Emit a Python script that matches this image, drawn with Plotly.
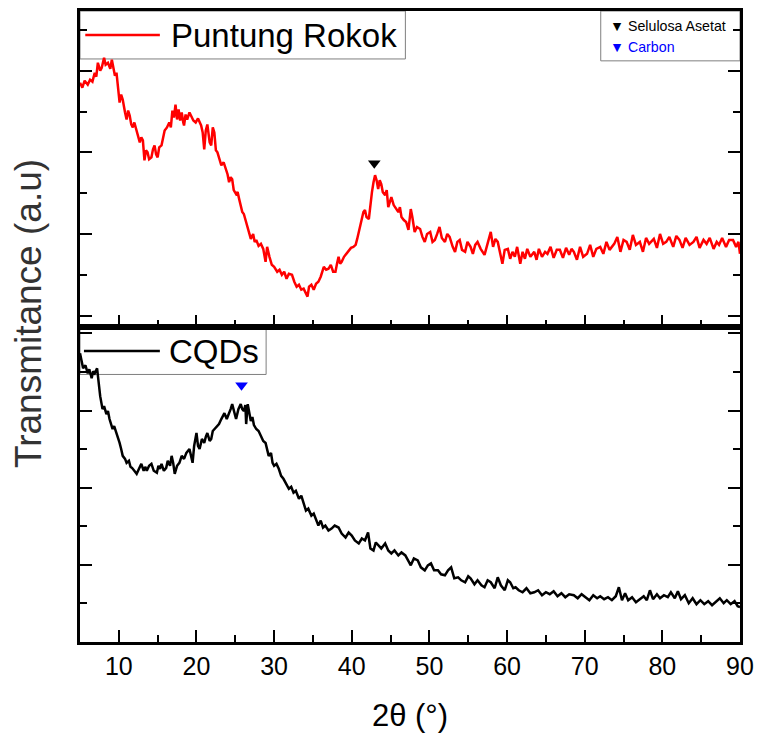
import plotly.graph_objects as go

# ---------------- data ----------------
theta_top = [5.0,5.3,5.6,6.0,6.3,6.6,6.9,7.1,7.3,7.6,7.8,8.1,8.3,8.6,8.9,9.1,9.3,9.5,9.7,9.9,
10.1,10.3,10.5,10.8,11.0,11.2,11.4,11.6,11.8,12.0,12.3,12.5,12.7,12.9,13.1,13.3,13.5,13.7,13.9,14.2,
14.4,14.6,14.8,15.0,15.2,15.5,15.7,15.9,16.2,16.5,16.7,16.9,17.1,17.3,17.5,17.7,17.9,18.1,18.3,18.4,
18.6,18.8,19.1,19.3,19.6,19.9,20.2,20.6,20.8,21.0,21.2,21.4,21.7,21.9,22.1,22.3,22.5,22.7,22.9,23.2,
23.5,23.8,24.0,24.2,24.4,24.6,24.8,25.1,25.3,25.5,25.7,25.9,26.1,26.4,26.7,27.0,27.3,27.5,27.7,28.0,
28.3,28.6,28.9,29.1,29.4,29.7,30.0,30.4,30.7,31.0,31.3,31.6,31.9,32.3,32.6,32.9,33.2,33.5,33.8,34.1,
34.3,34.5,34.8,35.1,35.4,35.7,36.0,36.4,36.7,37.0,37.3,37.6,37.9,38.1,38.3,38.5,38.7,39.0,39.3,39.6,
39.9,40.2,40.5,40.7,40.9,41.1,41.3,41.5,41.7,41.9,42.2,42.4,42.6,42.8,43.0,43.2,43.4,43.6,43.8,44.0,
44.3,44.5,44.7,44.9,45.1,45.4,45.7,46.0,46.2,46.4,46.7,47.0,47.3,47.6,47.8,48.1,48.4,48.8,49.1,49.4,
49.7,50.1,50.4,50.7,51.0,51.3,51.6,52.0,52.3,52.6,53.0,53.3,53.6,53.9,54.2,54.6,54.9,55.3,55.6,55.9,
56.2,56.6,57.1,57.4,57.6,57.9,58.2,58.5,58.8,59.1,59.4,59.7,60.1,60.4,60.7,61.0,61.3,61.7,62.0,62.3,
62.6,63.0,63.5,63.8,64.1,64.5,64.9,65.2,65.6,66.0,66.4,66.8,67.2,67.6,68.0,68.3,68.6,69.0,69.4,69.8,
70.3,70.7,71.1,71.5,72.0,72.4,72.8,73.2,73.8,74.2,74.6,75.0,75.4,75.8,76.2,76.6,77.1,77.5,77.9,78.3,
78.9,79.3,79.7,80.1,80.5,80.9,81.4,81.8,82.2,82.6,83.0,83.5,84.0,84.4,84.8,85.3,85.7,86.1,86.6,87.0,
87.3,87.7,88.2,88.6,89.1,89.5,89.8,90.0]
puntung_rokok = [245,240,247,243,248,246,255,251,265,257,260,270,263,265,259,268,260,252,255,242,
225,233,228,215,208,217,212,203,200,205,197,192,185,190,187,167,177,175,168,170,
178,182,173,170,180,182,190,197,200,205,200,217,210,223,208,218,207,215,205,202,
213,208,215,212,207,205,209,202,195,178,197,203,185,182,200,195,177,175,170,162,
165,158,153,145,150,148,137,133,135,128,120,115,113,105,97,88,93,85,87,81,
83,78,65,80,70,62,60,55,57,52,55,48,53,52,45,40,42,37,38,32,
30,40,42,37,43,45,50,60,57,58,62,55,55,63,70,63,65,70,73,75,
79,80,82,88,95,101,108,115,117,110,108,125,135,145,152,147,138,147,143,135,
132,137,120,125,130,122,118,115,120,110,107,105,97,118,110,95,100,98,90,85,
93,95,85,87,93,100,89,85,93,90,80,75,85,87,77,75,85,80,73,82,
85,78,72,80,87,95,80,88,85,75,63,77,78,68,75,70,80,63,75,68,
78,70,75,67,78,70,75,73,80,69,77,77,69,79,72,78,75,67,80,70,
73,82,70,78,80,73,85,77,83,90,75,87,85,77,92,82,85,75,89,83,
88,79,93,83,85,90,80,91,87,79,89,82,85,90,79,87,83,89,78,85,
82,89,80,87,87,80,85,73]

theta_bot = [5.0,5.2,5.4,5.7,6.0,6.2,6.5,6.7,6.9,7.2,7.4,7.6,7.9,8.1,8.4,8.6,8.8,9.0,9.2,9.4,
9.7,9.9,10.1,10.3,10.5,10.8,11.0,11.3,11.5,11.7,12.0,12.3,12.6,12.9,13.2,13.4,13.6,13.9,14.2,14.5,
14.9,15.1,15.3,15.5,15.8,16.1,16.3,16.6,16.8,17.0,17.2,17.5,17.8,18.1,18.4,18.7,19.1,19.3,19.5,19.7,
20.0,20.2,20.4,20.7,21.0,21.2,21.4,21.7,21.9,22.1,22.3,22.6,22.9,23.2,23.6,23.9,24.2,24.4,24.6,24.9,
25.1,25.4,25.7,25.9,26.1,26.3,26.4,26.6,26.8,27.0,27.2,27.4,27.7,28.0,28.3,28.6,28.9,29.1,29.3,29.6,
29.8,30.0,30.3,30.6,30.9,31.2,31.5,31.9,32.2,32.5,32.8,33.2,33.5,33.8,34.1,34.4,34.8,35.1,35.4,35.7,
36.0,36.3,36.6,37.0,37.4,37.8,38.3,38.7,39.2,39.6,40.0,40.4,40.9,41.3,41.7,42.1,42.4,42.8,43.1,43.4,
43.8,44.3,44.7,45.1,45.5,46.0,46.4,46.9,47.2,47.6,48.0,48.5,48.9,49.4,49.8,50.2,50.6,51.1,51.5,52.0,
52.4,52.8,53.2,53.7,54.1,54.6,55.0,55.3,55.8,56.2,56.7,57.1,57.5,57.9,58.4,58.8,59.2,59.7,60.1,60.4,
60.8,61.1,61.5,62.0,62.5,63.0,63.5,64.0,64.5,65.0,65.5,66.0,66.5,67.0,67.5,68.0,68.6,69.1,69.6,70.1,
70.6,71.1,71.6,72.0,72.5,73.0,73.5,74.0,74.4,74.8,75.2,75.6,76.1,76.6,77.1,77.6,78.0,78.4,78.8,79.3,
79.7,80.2,80.7,81.1,81.6,82.0,82.4,82.9,83.4,83.9,84.4,84.9,85.4,85.9,86.4,86.9,87.4,87.9,88.3,88.8,
89.3,89.7,90.0]
cqds = [290,282,275,278,270,274,265,272,270,275,262,247,234,237,229,232,224,220,214,217,
210,207,200,194,187,184,180,182,176,175,172,169,174,179,172,176,172,177,179,172,
170,177,174,179,172,175,182,177,187,180,169,177,180,187,184,190,194,187,180,197,
210,197,194,204,200,206,210,202,204,212,214,217,219,224,230,224,229,234,239,230,
224,234,239,234,232,238,219,239,232,222,226,218,214,212,207,202,200,194,187,190,
180,177,179,174,167,164,160,154,156,150,152,144,147,140,132,134,127,129,122,117,
122,115,117,112,114,117,115,109,105,110,107,102,99,104,102,110,94,92,100,97,
94,99,92,89,92,87,90,87,82,77,84,82,75,72,77,79,72,72,68,67,
72,75,64,65,62,60,66,64,58,62,57,55,62,60,54,65,57,52,62,60,
54,55,52,50,54,49,50,52,47,50,48,51,46,49,45,48,47,44,48,45,
42,47,44,46,43,45,42,46,55,42,49,42,45,40,43,46,42,52,43,48,
44,47,45,50,44,51,43,47,39,44,38,42,38,41,37,41,44,39,42,38,
41,36,35]

# peak markers
peak_names = ["Selulosa Asetat", "Carbon"]
peak_theta = [42.9, 25.8]
peak_level = [164, 258]
peak_colors = ["#000000", "#0000FF"]

series_names = ["Puntung Rokok", "CQDs"]
series_colors = ["#FF0000", "#000000"]

x_ticks = [10, 20, 30, 40, 50, 60, 70, 80, 90]

# ---------------- figure ----------------
FONT = "Arial, 'Liberation Sans', sans-serif"
fig = go.Figure()

fig.add_trace(go.Scatter(x=theta_top, y=puntung_rokok, mode="lines", name=series_names[0],
                         line=dict(color=series_colors[0], width=2.5), xaxis="x2", yaxis="y2",
                         showlegend=False))
fig.add_trace(go.Scatter(x=theta_bot, y=cqds, mode="lines", name=series_names[1],
                         line=dict(color=series_colors[1], width=2.5), xaxis="x", yaxis="y",
                         showlegend=False))
fig.add_trace(go.Scatter(x=[peak_theta[0]], y=[peak_level[0]], mode="markers", name=peak_names[0],
                         marker=dict(symbol="triangle-down", size=11, color=peak_colors[0]),
                         xaxis="x2", yaxis="y2", showlegend=False))
fig.add_trace(go.Scatter(x=[peak_theta[1]], y=[peak_level[1]], mode="markers", name=peak_names[1],
                         marker=dict(symbol="triangle-down", size=11, color=peak_colors[1]),
                         xaxis="x", yaxis="y", showlegend=False))

xcommon = dict(range=[5, 90], tickmode="array", tickvals=x_ticks, ticks="inside", ticklen=12,
               tickwidth=2, tickcolor="black", showline=True, linewidth=2.5, linecolor="black",
               mirror=True, showgrid=False, zeroline=False,
               minor=dict(tickmode="array", tickvals=[15, 25, 35, 45, 55, 65, 75, 85],
                          ticks="inside", ticklen=7, tickwidth=2, tickcolor="black"))

fig.update_layout(
    width=762, height=746,
    margin=dict(l=80, r=19, t=8, b=104),
    paper_bgcolor="white", plot_bgcolor="white",
    font=dict(family=FONT, color="black"),
    xaxis=dict(**xcommon, anchor="y", domain=[0, 1],
               tickfont=dict(size=25, family=FONT, color="black"),
               title=dict(text="2θ (°)", font=dict(size=31, family=FONT, color="black"), standoff=26)),
    xaxis2=dict(**xcommon, anchor="y2", matches="x", showticklabels=False),
    yaxis=dict(domain=[0, 0.5], range=[0, 317], tick0=0, dtick=77.5, ticks="inside", ticklen=12,
               tickwidth=2, tickcolor="black", showticklabels=False, showline=True, linewidth=2.5,
               linecolor="black", mirror="ticks", showgrid=False, zeroline=False,
               minor=dict(tick0=0, dtick=38.75, ticks="inside", ticklen=7, tickwidth=2, tickcolor="black")),
    yaxis2=dict(domain=[0.5, 1], range=[0, 317], tick0=11, dtick=82, ticks="inside", ticklen=12,
                tickwidth=2, tickcolor="black", showticklabels=False, showline=True, linewidth=2.5,
                linecolor="black", mirror="ticks", showgrid=False, zeroline=False,
                minor=dict(tick0=11, dtick=41, ticks="inside", ticklen=7, tickwidth=2, tickcolor="black")),
    showlegend=False,
)

# y-axis title spanning both panels
fig.add_annotation(text="Transmitance (a.u)", xref="paper", yref="paper", x=-0.077, y=0.52,
                   textangle=-90, showarrow=False, font=dict(size=37, family=FONT, color="#333"),
                   xanchor="center", yanchor="middle")

# legend boxes (drawn as shapes + text)
gray = "#7f7f7f"
fig.add_shape(type="rect", xref="paper", yref="paper", x0=0, x1=0.493, y0=0.924, y1=1,
              line=dict(color=gray, width=1), fillcolor="white", layer="below")
fig.add_shape(type="line", xref="paper", yref="paper", x0=0.008, x1=0.121, y0=0.962, y1=0.962,
              line=dict(color=series_colors[0], width=2.5))
fig.add_annotation(text=series_names[0], xref="paper", yref="paper", x=0.135, y=0.961,
                   xanchor="left", yanchor="middle", showarrow=False,
                   font=dict(size=33, family=FONT, color="black"))

fig.add_shape(type="rect", xref="paper", yref="paper", x0=0, x1=0.282, y0=0.424, y1=0.5,
              line=dict(color=gray, width=1), fillcolor="white", layer="below")
fig.add_shape(type="line", xref="paper", yref="paper", x0=0.006, x1=0.121, y0=0.461, y1=0.461,
              line=dict(color=series_colors[1], width=2.5))
fig.add_annotation(text=series_names[1], xref="paper", yref="paper", x=0.132, y=0.460,
                   xanchor="left", yanchor="middle", showarrow=False,
                   font=dict(size=33, family=FONT, color="black"))

fig.add_shape(type="rect", xref="paper", yref="paper", x0=0.789, x1=1, y0=0.921, y1=1,
              line=dict(color=gray, width=1), fillcolor="white", layer="below")
fig.add_annotation(text="▼ " + peak_names[0], xref="paper", yref="paper", x=0.800, y=0.976,
                   xanchor="left", yanchor="middle", showarrow=False,
                   font=dict(size=14.2, family=FONT, color=peak_colors[0]))
fig.add_annotation(text="▼ " + peak_names[1], xref="paper", yref="paper", x=0.800, y=0.943,
                   xanchor="left", yanchor="middle", showarrow=False,
                   font=dict(size=14.2, family=FONT, color=peak_colors[1]))

fig.write_html("out.html")
